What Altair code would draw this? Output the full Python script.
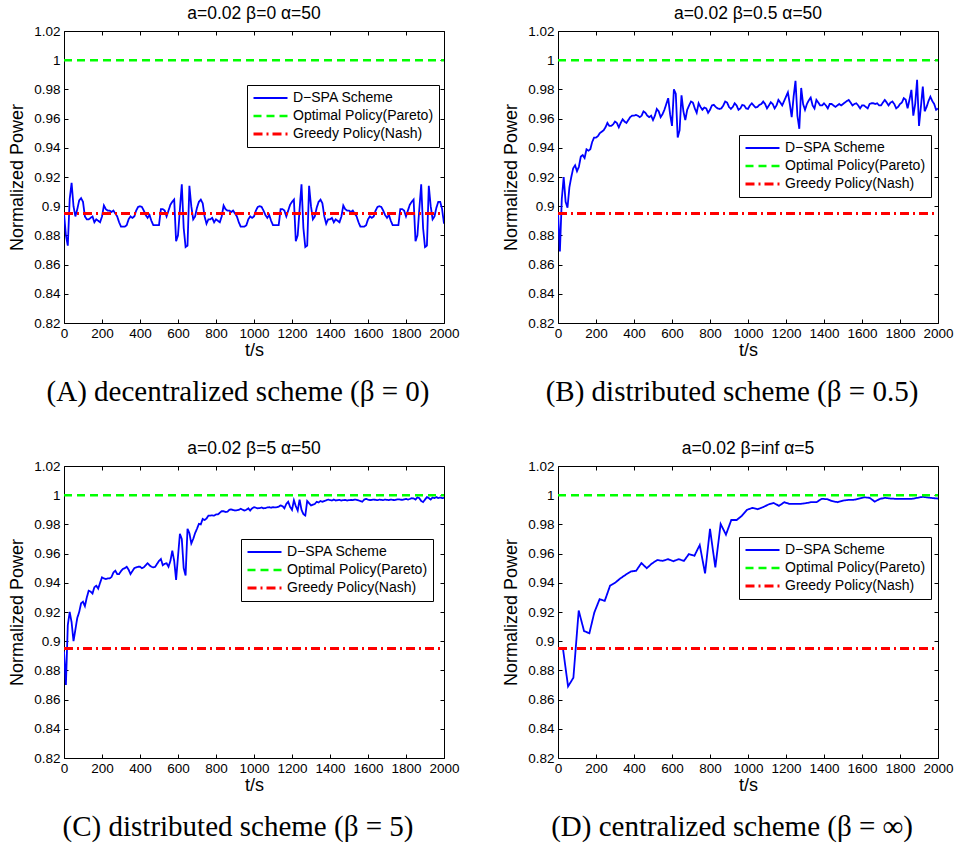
import altair as alt
import pandas as pd

# ---------------- data ----------------
T10 = list(range(0, 2001, 10))

A_VALUES = [
    0.8955, 0.880, 0.873, 0.905, 0.916, 0.900, 0.893, 0.898, 0.904, 0.9055,
    0.903, 0.893, 0.891, 0.891, 0.892, 0.893, 0.889, 0.891, 0.890, 0.889,
    0.893, 0.9005, 0.898, 0.897, 0.897, 0.896, 0.897, 0.895, 0.893, 0.889,
    0.886, 0.886, 0.886, 0.887, 0.891, 0.893, 0.892, 0.893, 0.897, 0.8995,
    0.900, 0.8995, 0.897, 0.894, 0.892, 0.894, 0.890, 0.887, 0.887, 0.887,
    0.887, 0.898, 0.898, 0.897, 0.893, 0.897, 0.901, 0.903, 0.9045, 0.876,
    0.880, 0.898, 0.915,
    0.885, 0.872, 0.873, 0.914, 0.900, 0.891, 0.893, 0.899, 0.903, 0.9045,
    0.902, 0.893, 0.888, 0.891, 0.891, 0.892, 0.889, 0.891, 0.890, 0.889,
    0.893, 0.9005, 0.898, 0.897, 0.897, 0.896, 0.897, 0.895, 0.893, 0.889,
    0.886, 0.886, 0.886, 0.887, 0.891, 0.893, 0.892, 0.893, 0.897, 0.8995,
    0.900, 0.8995, 0.897, 0.894, 0.892, 0.894, 0.890, 0.887, 0.887, 0.887,
    0.887, 0.898, 0.898, 0.897, 0.893, 0.897, 0.901, 0.903, 0.9045, 0.876,
    0.880, 0.898, 0.915,
    0.885, 0.872, 0.873, 0.914, 0.900, 0.891, 0.893, 0.899, 0.903, 0.9045,
    0.902, 0.893, 0.888, 0.891, 0.891, 0.892, 0.889, 0.891, 0.890, 0.889,
    0.893, 0.9005, 0.898, 0.897, 0.897, 0.896, 0.897, 0.895, 0.893, 0.889,
    0.886, 0.886, 0.886, 0.887, 0.891, 0.893, 0.892, 0.893, 0.897, 0.8995,
    0.900, 0.8995, 0.897, 0.894, 0.892, 0.894, 0.890, 0.887, 0.887, 0.887,
    0.887, 0.898, 0.898, 0.897, 0.893, 0.897, 0.901, 0.903, 0.9045, 0.876,
    0.880, 0.898, 0.915,
    0.885, 0.872, 0.873, 0.914, 0.900, 0.891, 0.893, 0.899, 0.903, 0.903,
    0.898, 0.888,
]

B_VALUES = [
    0.896, 0.869, 0.905, 0.920, 0.903, 0.899, 0.913, 0.920, 0.926, 0.928,
    0.924, 0.927, 0.934, 0.935, 0.933, 0.939, 0.938, 0.939, 0.944, 0.947,
    0.947, 0.948, 0.950, 0.951, 0.952, 0.954, 0.957, 0.955, 0.955, 0.956,
    0.958, 0.957, 0.954, 0.957, 0.9595, 0.958, 0.957, 0.959, 0.961, 0.962,
    0.962, 0.9625, 0.962, 0.961, 0.962, 0.965, 0.964, 0.962, 0.961, 0.962,
    0.959, 0.962, 0.9666, 0.965, 0.961, 0.963, 0.966, 0.970, 0.974, 0.963,
    0.955, 0.980, 0.977, 0.947, 0.952, 0.976, 0.965, 0.959, 0.966, 0.969,
    0.9717, 0.971, 0.967, 0.964, 0.9705, 0.968, 0.966, 0.9676, 0.967, 0.964,
    0.966, 0.969, 0.9694, 0.968, 0.967, 0.9666, 0.967, 0.969, 0.9717, 0.971,
    0.968, 0.9666, 0.968, 0.9705, 0.969, 0.966, 0.967, 0.9694, 0.969, 0.967,
    0.9666, 0.969, 0.9705, 0.969, 0.9676, 0.968, 0.9694, 0.970, 0.9717, 0.970,
    0.967, 0.969, 0.9712, 0.970, 0.967, 0.969, 0.9728, 0.971, 0.969, 0.972,
    0.975, 0.978, 0.970, 0.961, 0.975, 0.9859, 0.962, 0.953, 0.981, 0.970,
    0.966, 0.970, 0.9725, 0.9744, 0.969, 0.967, 0.9728, 0.971, 0.969, 0.969,
    0.9705, 0.969, 0.967, 0.970, 0.970, 0.969, 0.968, 0.969, 0.970, 0.969,
    0.970, 0.971, 0.972, 0.9728, 0.971, 0.969, 0.970, 0.9705, 0.969, 0.967,
    0.969, 0.969, 0.968, 0.967, 0.970, 0.9705, 0.9705, 0.970, 0.9705, 0.969,
    0.969, 0.971, 0.9728, 0.971, 0.969, 0.971, 0.9717, 0.970, 0.967, 0.968,
    0.970, 0.971, 0.974, 0.973, 0.967, 0.973, 0.9797, 0.962, 0.970, 0.9866,
    0.955, 0.968, 0.982, 0.965, 0.968, 0.972, 0.975, 0.972, 0.970, 0.966,
    0.967,
]

C_VALUES = [
    0.893, 0.870, 0.911, 0.920, 0.913, 0.900, 0.908, 0.916, 0.920, 0.926,
    0.927, 0.924, 0.930, 0.9346, 0.934, 0.9327, 0.937, 0.938, 0.936, 0.940,
    0.9437, 0.943, 0.9426, 0.943, 0.943, 0.944, 0.947, 0.9483, 0.946, 0.946,
    0.948, 0.9495, 0.950, 0.951, 0.949, 0.946, 0.948, 0.950, 0.9506, 0.951,
    0.951, 0.950, 0.9506, 0.952, 0.9534, 0.952, 0.951, 0.9506, 0.951, 0.953,
    0.955, 0.9563, 0.952, 0.953, 0.9534, 0.951, 0.955, 0.962, 0.955, 0.942,
    0.958, 0.9735, 0.970, 0.950, 0.945, 0.977, 0.974, 0.967, 0.970, 0.974,
    0.977, 0.9804, 0.980, 0.9838, 0.983, 0.984, 0.986, 0.986, 0.9862, 0.986,
    0.9868, 0.9868, 0.988, 0.989, 0.989, 0.9885, 0.9887, 0.990, 0.9903, 0.9898,
    0.9895, 0.9897, 0.990, 0.9907, 0.990, 0.9895, 0.990, 0.991, 0.9895, 0.991,
    0.9918, 0.9914, 0.991, 0.9912, 0.9916, 0.991, 0.9912, 0.9916, 0.9918, 0.9914,
    0.9918, 0.9916, 0.9918, 0.9922, 0.993, 0.9925, 0.991, 0.994, 0.9955, 0.992,
    0.990, 0.9965, 0.9925, 0.9895, 0.997, 0.990, 0.987, 0.9861, 0.996, 0.9945,
    0.993, 0.9935, 0.994, 0.9955, 0.995, 0.996, 0.9955, 0.996, 0.9965, 0.997,
    0.9966, 0.9964, 0.997, 0.9964, 0.9966, 0.9968, 0.9964, 0.9966, 0.9968, 0.9964,
    0.9966, 0.9968, 0.9966, 0.997, 0.9968, 0.9964, 0.996, 0.9955, 0.997, 0.9975,
    0.997, 0.9966, 0.9968, 0.997, 0.9968, 0.9966, 0.997, 0.9968, 0.9966, 0.997,
    0.9968, 0.9966, 0.997, 0.9968, 0.9966, 0.997, 0.9972, 0.997, 0.9968, 0.9972,
    0.9975, 0.997, 0.9974, 0.998, 0.9978, 0.997, 0.9985, 0.998, 0.996, 0.9953,
    0.997, 0.9987, 0.998, 0.997, 0.9984, 0.998, 0.9987, 0.998, 0.9984, 0.998,
    0.9982,
]

D_TIMES = [26, 53, 81, 109, 137, 165, 191, 219, 246, 274, 302, 330, 356, 384,
           411, 439, 467, 495, 523, 551, 579, 607, 635, 663, 689, 718, 746, 774,
           800, 828, 856, 884, 912, 940, 967, 995, 1023, 1051, 1079, 1107, 1135,
           1163, 1191, 1219, 1247, 1275, 1303, 1332, 1360, 1388, 1416, 1444, 1472,
           1500, 1528, 1556, 1584, 1612, 1640, 1667, 1695, 1723, 1751, 1779, 1807,
           1835, 1863, 1891, 1919, 1947, 1975, 2000]
D_VALUES = [0.895, 0.869, 0.875, 0.921, 0.907, 0.9054, 0.9196, 0.9288, 0.9276,
            0.938, 0.9402, 0.9432, 0.9455, 0.9478, 0.9482, 0.9535, 0.950, 0.9533,
            0.9556, 0.955, 0.9562, 0.9548, 0.9562, 0.955, 0.9597, 0.9585, 0.9659,
            0.9464, 0.9769, 0.9505, 0.9803, 0.973, 0.983, 0.983, 0.9858, 0.990,
            0.9913, 0.9904, 0.9918, 0.9936, 0.9947, 0.9927, 0.9952, 0.994, 0.994,
            0.994, 0.9945, 0.9952, 0.9952, 0.9975, 0.9973, 0.9959, 0.9952, 0.9963,
            0.9968, 0.9968, 0.9977, 0.9986, 0.9982, 0.9956, 0.9975, 0.9982, 0.9977,
            0.9975, 0.9975, 0.9975, 0.9975, 0.9982, 0.9989, 0.9984, 0.998, 0.9977]

SERIES = ["D\u2212SPA Scheme", "Optimal Policy(Pareto)", "Greedy Policy(Nash)"]
COLORS = ["#0000ff", "#00ff00", "#ff0000"]
DASHES = [[1, 0], [8, 5], [9, 4, 2, 4]]
WIDTHS = [1.8, 3, 3]
PARETO = 1.0
NASH = 0.895
X_RANGE = [0, 2000]
Y_RANGE = [0.82, 1.02]
X_TICKS = [0, 200, 400, 600, 800, 1000, 1200, 1400, 1600, 1800, 2000]
Y_TICKS = [0.82, 0.84, 0.86, 0.88, 0.9, 0.92, 0.94, 0.96, 0.98, 1.0, 1.02]

TITLES = ["a=0.02 \u03b2=0 \u03b1=50", "a=0.02 \u03b2=0.5 \u03b1=50",
          "a=0.02 \u03b2=5 \u03b1=50", "a=0.02 \u03b2=inf \u03b1=5"]
CAPTIONS = ["(A) decentralized scheme (\u03b2 = 0)",
            "(B) distributed scheme (\u03b2 = 0.5)",
            "(C) distributed scheme (\u03b2 = 5)",
            "(D) centralized scheme (\u03b2 = \u221e)"]
LEGEND_POS = [(183, 54), (181, 104), (177, 73), (181, 71)]

# ---------------- layout ----------------
W, H = 380, 292
SANS = "Liberation Sans"
SERIF = "Liberation Serif"
INDEP = dict(color="independent", strokeDash="independent", strokeWidth="independent")


def panel(times, values, title, caption, lpos):
    blue = pd.DataFrame({"t": times, "v": values, "series": SERIES[0]})
    green = pd.DataFrame({"t": X_RANGE, "v": [PARETO, PARETO], "series": SERIES[1]})
    red = pd.DataFrame({"t": X_RANGE, "v": [NASH, NASH], "series": SERIES[2]})

    def leg():
        return alt.Legend(title=None, orient="none", legendX=lpos[0], legendY=lpos[1],
                          symbolType="stroke", symbolSize=1156, clipHeight=16,
                          rowPadding=2, labelFont=SANS, labelFontSize=14,
                          labelColor="black", strokeColor="black", fillColor="white",
                          padding=5, labelOffset=4, cornerRadius=0)

    style = dict(
        color=alt.Color("series:N", scale=alt.Scale(domain=SERIES, range=COLORS), legend=leg()),
        strokeDash=alt.StrokeDash("series:N", scale=alt.Scale(domain=SERIES, range=DASHES), legend=leg()),
        strokeWidth=alt.StrokeWidth("series:N", scale=alt.Scale(domain=SERIES, range=WIDTHS), legend=leg()),
    )
    xs = alt.Scale(domain=X_RANGE, nice=False, zero=False)
    ys = alt.Scale(domain=Y_RANGE, nice=False, zero=False)

    common = dict(grid=False, domain=False, tickColor="black", tickWidth=1,
                  tickSize=4, offset=-4)
    x_main = alt.X("t:Q", scale=xs, axis=alt.Axis(
        orient="bottom", values=X_TICKS, format="d", title="t/s", labelFlush=False,
        labelOverlap=False, labelPadding=3, titlePadding=2, **common))
    y_main = alt.Y("v:Q", scale=ys, axis=alt.Axis(
        orient="left", values=Y_TICKS, format="~g", title="Normalized Power",
        labelFlush=False, labelOverlap=False, labelPadding=4, titlePadding=7, **common))
    x_top = alt.X("t:Q", scale=xs, axis=alt.Axis(
        orient="top", values=X_TICKS, labels=False, title=None, **common))
    y_right = alt.Y("v:Q", scale=ys, axis=alt.Axis(
        orient="right", values=Y_TICKS, labels=False, title=None, **common))

    l1 = alt.Chart(blue).mark_line(clip=True).encode(x=x_main, y=y_main, **style)
    l2 = alt.Chart(green).mark_line(clip=True).encode(x=x_top, y=y_right, **style)
    l3 = alt.Chart(red).mark_line(clip=True).encode(
        x=alt.X("t:Q", scale=xs, axis=None), y=alt.Y("v:Q", scale=ys, axis=None), **style)
    cap = alt.Chart(pd.DataFrame({"caption": [caption]})).mark_text(
        font=SERIF, fontSize=29, align="center", baseline="alphabetic", color="black"
    ).encode(x=alt.value(174), y=alt.value(H + 78), text="caption:N")

    return alt.layer(l1, l2, l3, cap).properties(
        width=W, height=H,
        title=alt.TitleParams(title, font=SANS, fontSize=17.5, fontWeight="normal",
                              color="black", anchor="middle", offset=2),
    )


pa = panel(T10, A_VALUES, TITLES[0], CAPTIONS[0], LEGEND_POS[0])
pb = panel(T10, B_VALUES, TITLES[1], CAPTIONS[1], LEGEND_POS[1])
pc = panel(T10, C_VALUES, TITLES[2], CAPTIONS[2], LEGEND_POS[2])
pd_ = panel(D_TIMES, D_VALUES, TITLES[3], CAPTIONS[3], LEGEND_POS[3])

chart = alt.vconcat(
    alt.hconcat(pa, pb, spacing=42).resolve_scale(**INDEP),
    alt.hconcat(pc, pd_, spacing=42).resolve_scale(**INDEP),
    spacing=31,
).resolve_scale(**INDEP).properties(
    padding={"left": 8, "top": 4, "right": 2, "bottom": 2},
    background="white",
).configure_view(
    stroke="black", strokeWidth=1
).configure_axis(
    labelFont=SANS, labelFontSize=13.5, labelColor="black",
    titleFont=SANS, titleFontSize=18, titleFontWeight="normal", titleColor="black",
)

chart.save("out.html", embed_options={"renderer": "svg", "actions": False})
